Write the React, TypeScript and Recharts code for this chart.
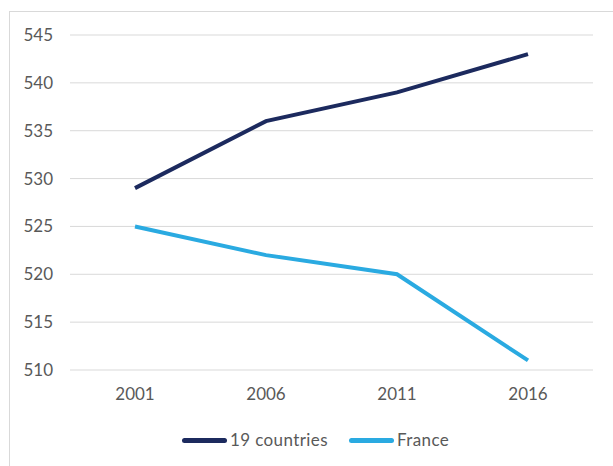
import React from "react";
import { LineChart, Line, XAxis, YAxis, CartesianGrid, Legend } from "recharts";

const years = ["2001", "2006", "2011", "2016"];
const nineteenCountries = [529, 536, 539, 543];
const france = [525, 522, 520, 511];
const yTicks = [510, 515, 520, 525, 530, 535, 540, 545];

const seriesNames = { a: "19 countries", b: "France" };
const colors = { a: "#1c2a5e", b: "#2aaae1" };

const data = years.map((year, i) => ({
  year,
  a: nineteenCountries[i],
  b: france[i],
}));

const FONT = "Lato, 'Open Sans', sans-serif";
const TEXT = "#595959";

function LegendContent() {
  const items = [
    { key: "a", label: seriesNames.a, color: colors.a },
    { key: "b", label: seriesNames.b, color: colors.b },
  ];
  return (
    <div
      style={{
        height: 56,
        paddingTop: 30,
        paddingLeft: 18,
        boxSizing: "border-box",
        display: "flex",
        justifyContent: "center",
        alignItems: "flex-start",
        fontFamily: FONT,
        fontSize: 17,
        letterSpacing: 0.4,
        color: TEXT,
        lineHeight: "20px",
      }}
    >
      {items.map((it, i) => (
        <div
          key={it.key}
          style={{ display: "flex", alignItems: "center", marginLeft: i ? 21 : 0 }}
        >
          <span
            style={{
              display: "inline-block",
              width: 45,
              height: 5,
              borderRadius: 2.5,
              background: it.color,
              marginRight: 3,
            }}
          />
          <span>{it.label}</span>
        </div>
      ))}
    </div>
  );
}

export default function App() {
  return (
    <div style={{ position: "absolute", left: 0, top: 0, width: 613, height: 466, background: "#fff" }}>
      <div
        style={{
          position: "absolute",
          left: 9,
          top: 11,
          width: 640,
          height: 500,
          border: "1px solid #d9d9d9",
          boxSizing: "border-box",
        }}
      />
      <LineChart
        width={613}
        height={466}
        data={data}
        margin={{ top: 35, right: 20, left: 20, bottom: 10 }}
      >
        <CartesianGrid vertical={false} stroke="#d9d9d9" strokeWidth={1} />
        <XAxis
          dataKey="year"
          axisLine={false}
          tickLine={false}
          height={30}
          tickMargin={12}
          padding={{ left: 65, right: 65 }}
          tick={{ fill: TEXT, fontSize: 17, fontFamily: FONT }}
        />
        <YAxis
          domain={[510, 545]}
          ticks={yTicks}
          axisLine={false}
          tickLine={false}
          width={50}
          tickMargin={11}
          interval={0}
          tick={{ fill: TEXT, fontSize: 17, fontFamily: FONT }}
        />
        <Legend verticalAlign="bottom" content={<LegendContent />} />
        <Line
          dataKey="a"
          name={seriesNames.a}
          stroke={colors.a}
          strokeWidth={4}
          dot={false}
          isAnimationActive={false}
        />
        <Line
          dataKey="b"
          name={seriesNames.b}
          stroke={colors.b}
          strokeWidth={4}
          dot={false}
          isAnimationActive={false}
        />
      </LineChart>
    </div>
  );
}
